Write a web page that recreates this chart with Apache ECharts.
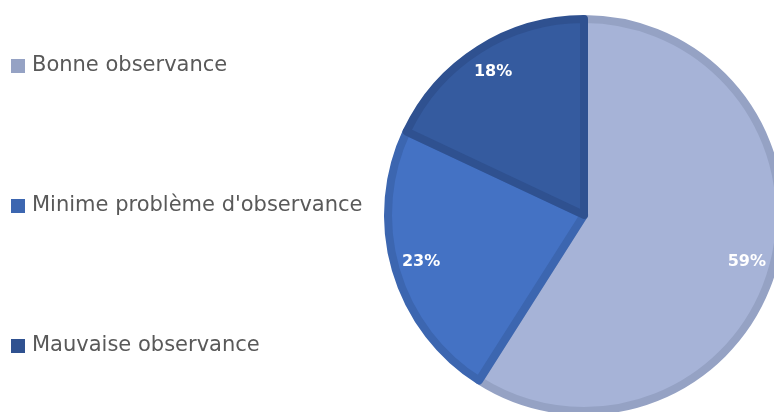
<!DOCTYPE html>
<html>
<head>
<meta charset="utf-8">
<script src="https://cdn.jsdelivr.net/npm/echarts@6/dist/echarts.min.js"></script>
<style>
  html, body { margin: 0; padding: 0; background: #ffffff; }
  #chart { width: 774px; height: 412px; }
</style>
</head>
<body>
<div id="chart"></div>
<script>
// Répartition de l'observance (en %)
const categories = ['Bonne observance', "Minime problème d'observance", 'Mauvaise observance'];
const values = [59, 23, 18];
const fillColors = ['#A6B3D7', '#4472C4', '#355B9F'];
const edgeColors = ['#95A2C4', '#3C66B0', '#2F5190'];

const center = [584, 215];
const outerRadius = 196;

const sliceData = categories.map((name, i) => ({
  name: name,
  value: values[i],
  itemStyle: { color: fillColors[i], borderColor: edgeColors[i], borderWidth: 8 }
}));

// transparent ring carrying the percentage labels near the rim
const labelData = categories.map((name, i) => ({
  name: name,
  value: values[i],
  itemStyle: { color: 'rgba(0,0,0,0)', borderWidth: 0 }
}));

const legendData = categories.map((name, i) => ({
  name: name,
  itemStyle: { color: edgeColors[i], borderWidth: 0 }
}));

const chart = echarts.init(document.getElementById('chart'), null, { renderer: 'canvas' });
chart.setOption({
  animation: false,
  legend: {
    orient: 'vertical',
    left: 11,
    top: 55,
    padding: 0,
    itemWidth: 14,
    itemHeight: 14,
    itemGap: 118,
    icon: 'rect',
    data: legendData,
    textStyle: {
      fontFamily: 'DejaVu Sans',
      fontSize: 21,
      lineHeight: 22,
      color: '#595959',
      padding: [0, 0, 0, 2]
    },
    selectedMode: false
  },
  series: [
    {
      type: 'pie',
      center: center,
      radius: [0, outerRadius],
      startAngle: 90,
      clockwise: true,
      silent: true,
      label: { show: false },
      labelLine: { show: false },
      data: sliceData
    },
    {
      type: 'pie',
      center: center,
      radius: [outerRadius * 0.7, outerRadius],
      startAngle: 90,
      clockwise: true,
      silent: true,
      legendHoverLink: false,
      label: {
        show: true,
        position: 'inside',
        formatter: (p) => p.value + '%',
        color: '#ffffff',
        fontFamily: 'DejaVu Sans',
        fontWeight: 'bold',
        fontSize: 16
      },
      labelLine: { show: false },
      data: labelData
    }
  ]
});
</script>
</body>
</html>
